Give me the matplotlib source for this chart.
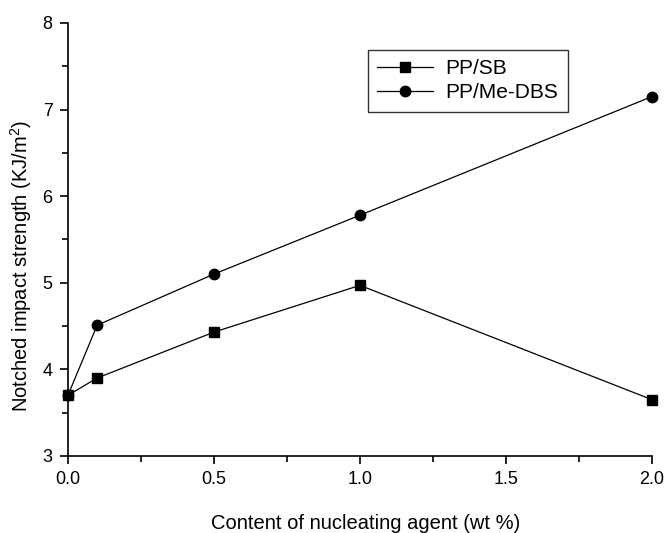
import numpy as np
import matplotlib
matplotlib.use("Agg")
import matplotlib.pyplot as plt
from matplotlib.ticker import MultipleLocator

plt.rcParams['font.family'] = ['Liberation Sans', 'DejaVu Sans']
plt.rcParams['mathtext.fontset'] = 'custom'
plt.rcParams['mathtext.rm'] = 'Liberation Sans'

content = [0.0, 0.1, 0.5, 1.0, 2.0]
pp_sb = [3.70, 3.90, 4.43, 4.97, 3.65]
pp_medbs = [3.70, 4.51, 5.10, 5.78, 7.15]

fig = plt.figure(figsize=(6.66, 5.33), dpi=100)
ax = fig.add_axes([0.102, 0.1445, 0.877, 0.8125])

ax.plot(content, pp_sb, color='black', lw=0.9, marker='s', ms=6.8, label='PP/SB', clip_on=False)
ax.plot(content, pp_medbs, color='black', lw=0.9, marker='o', ms=7.5, label='PP/Me-DBS', clip_on=False)

ax.set_xlim(0, 2.0)
ax.set_ylim(3, 8)
ax.xaxis.set_major_locator(MultipleLocator(0.5))
ax.xaxis.set_minor_locator(MultipleLocator(0.25))
ax.yaxis.set_major_locator(MultipleLocator(1))
ax.yaxis.set_minor_locator(MultipleLocator(0.5))
ax.spines['top'].set_visible(False)
ax.spines['right'].set_visible(False)
for s in ['left', 'bottom']:
    ax.spines[s].set_linewidth(1.2)
ax.tick_params(which='major', direction='out', length=6, width=1.2, labelsize=13, pad=5)
ax.tick_params(which='minor', direction='out', length=4, width=1.2)
ax.xaxis.set_major_formatter(matplotlib.ticker.FormatStrFormatter('%.1f'))

ax.set_xlabel('Content of nucleating agent (wt %)', fontsize=14.5)
ax.set_ylabel('Notched impact strength (KJ/m$^2$)', fontsize=14.5)
ax.xaxis.set_label_coords(0.51, -0.134)
ax.yaxis.set_label_coords(-0.058, 0.44)

leg = ax.legend(loc='upper left', bbox_to_anchor=(0.513, 0.938), fontsize=15,
                frameon=True, fancybox=False, edgecolor='black', handlelength=2.7,
                borderpad=0.45, labelspacing=0.25, handletextpad=0.6, borderaxespad=0)
leg.get_frame().set_linewidth(1.0)

fig.savefig('out.png', dpi=100)
